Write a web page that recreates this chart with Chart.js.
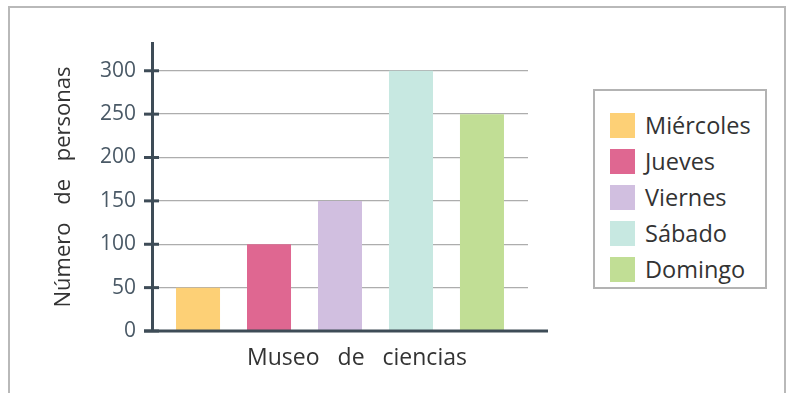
<!DOCTYPE html>
<html>
<head>
<meta charset="utf-8">
<script src="https://cdn.jsdelivr.net/npm/chart.js@4"></script>
<style>
    html, body { margin: 0; padding: 0; background: #fff; }
    #wrap { position: relative; width: 790px; height: 393px; overflow: hidden; }
    #frame {
        position: absolute; left: 8px; top: 6px; width: 774px; height: 400px;
        border: 2px solid #b9b9b9; border-bottom: none; pointer-events: none;
    }
    #legend {
        position: absolute; left: 593px; top: 89px; width: 170px; height: 196px;
        border: 2px solid #b3b3b3; background: #fff;
        font-family: "Open Sans", "Noto Sans", sans-serif; font-size: 23.5px; color: #333;
    }
    #legend ul { list-style: none; margin: 0; padding: 0; position: absolute; left: 15px; top: 16px; }
    #legend li { height: 36px; display: flex; align-items: center; }
    #legend .sw { width: 25px; height: 25px; margin-right: 10px; flex: none; }
</style>
</head>
<body>
<div id="wrap">
    <canvas id="chart" width="790" height="393"></canvas>
    <div id="frame"></div>
    <div id="legend"><ul id="legend-list"></ul></div>
</div>
<script>
// Datos del gráfico
const categories = ['Museo de ciencias'];
const days = ['Miércoles', 'Jueves', 'Viernes', 'Sábado', 'Domingo'];
const visitors = [50, 100, 150, 300, 250];
const dayColors = ['#fdd076', '#df6791', '#d1bfe0', '#c7e8e1', '#c1de95'];
const yTicks = [0, 50, 100, 150, 200, 250, 300];

const axisColor = '#3e4c57';
const font = '"Open Sans", "Noto Sans", sans-serif';

// Espaciado amplio entre palabras, como en el original
const wordGap = {
    id: 'wordGap',
    beforeDraw(chart) { chart.ctx.wordSpacing = '12px'; }
};

// Ejes dibujados a mano: línea del eje X más larga y marcas que cruzan el eje Y
const axisLines = {
    id: 'axisLines',
    afterDatasetsDraw(chart) {
        const { ctx, chartArea, scales } = chart;
        ctx.save();
        ctx.strokeStyle = axisColor;
        ctx.lineWidth = 3;
        scales.y.ticks.forEach(t => {
            const y = scales.y.getPixelForValue(t.value);
            ctx.beginPath();
            ctx.moveTo(chartArea.left - 8, y);
            ctx.lineTo(chartArea.left + 7, y);
            ctx.stroke();
        });
        ctx.beginPath();
        ctx.moveTo(chartArea.left - 8, chartArea.bottom);
        ctx.lineTo(chartArea.right + 20, chartArea.bottom);
        ctx.stroke();
        ctx.restore();
    }
};

const chart = new Chart(document.getElementById('chart'), {
    type: 'bar',
    data: {
        labels: categories,
        datasets: days.map((d, i) => ({
            label: d,
            data: [visitors[i]],
            backgroundColor: dayColors[i],
            categoryPercentage: 0.944,
            barPercentage: 0.62
        }))
    },
    options: {
        responsive: false,
        animation: false,
        layout: { padding: { left: 0, top: 43, right: 262, bottom: 0 } },
        plugins: {
            legend: { display: false },
            tooltip: { enabled: false }
        },
        scales: {
            x: {
                grid: { display: false, drawTicks: false },
                border: { display: false },
                ticks: {
                    font: { family: font, size: 23 },
                    color: '#333',
                    padding: 14,
                    labelOffset: 17
                },
                afterFit(scale) { scale.height = 62; }
            },
            y: {
                min: 0,
                max: 332,
                afterBuildTicks(scale) { scale.ticks = yTicks.map(v => ({ value: v })); },
                afterFit(scale) { scale.width = 152; },
                grid: {
                    color: '#adadad',
                    lineWidth: 1.3,
                    tickLength: 8,
                    tickColor: 'rgba(0,0,0,0)'
                },
                border: { display: true, color: axisColor, width: 3 },
                ticks: {
                    font: { family: font, size: 21 },
                    color: '#4a5966',
                    padding: 8
                },
                title: {
                    display: true,
                    text: 'Número de personas',
                    font: { family: font, size: 22 },
                    color: '#333',
                    padding: { top: 51, bottom: 0 }
                }
            }
        }
    },
    plugins: [wordGap, axisLines]
});

// Leyenda con recuadro, generada desde los datasets
const legendList = document.getElementById('legend-list');
chart.data.datasets.forEach(ds => {
    const li = document.createElement('li');
    li.innerHTML = `<span class="sw" style="background:${ds.backgroundColor}"></span><span>${ds.label}</span>`;
    legendList.appendChild(li);
});
</script>
</body>
</html>
